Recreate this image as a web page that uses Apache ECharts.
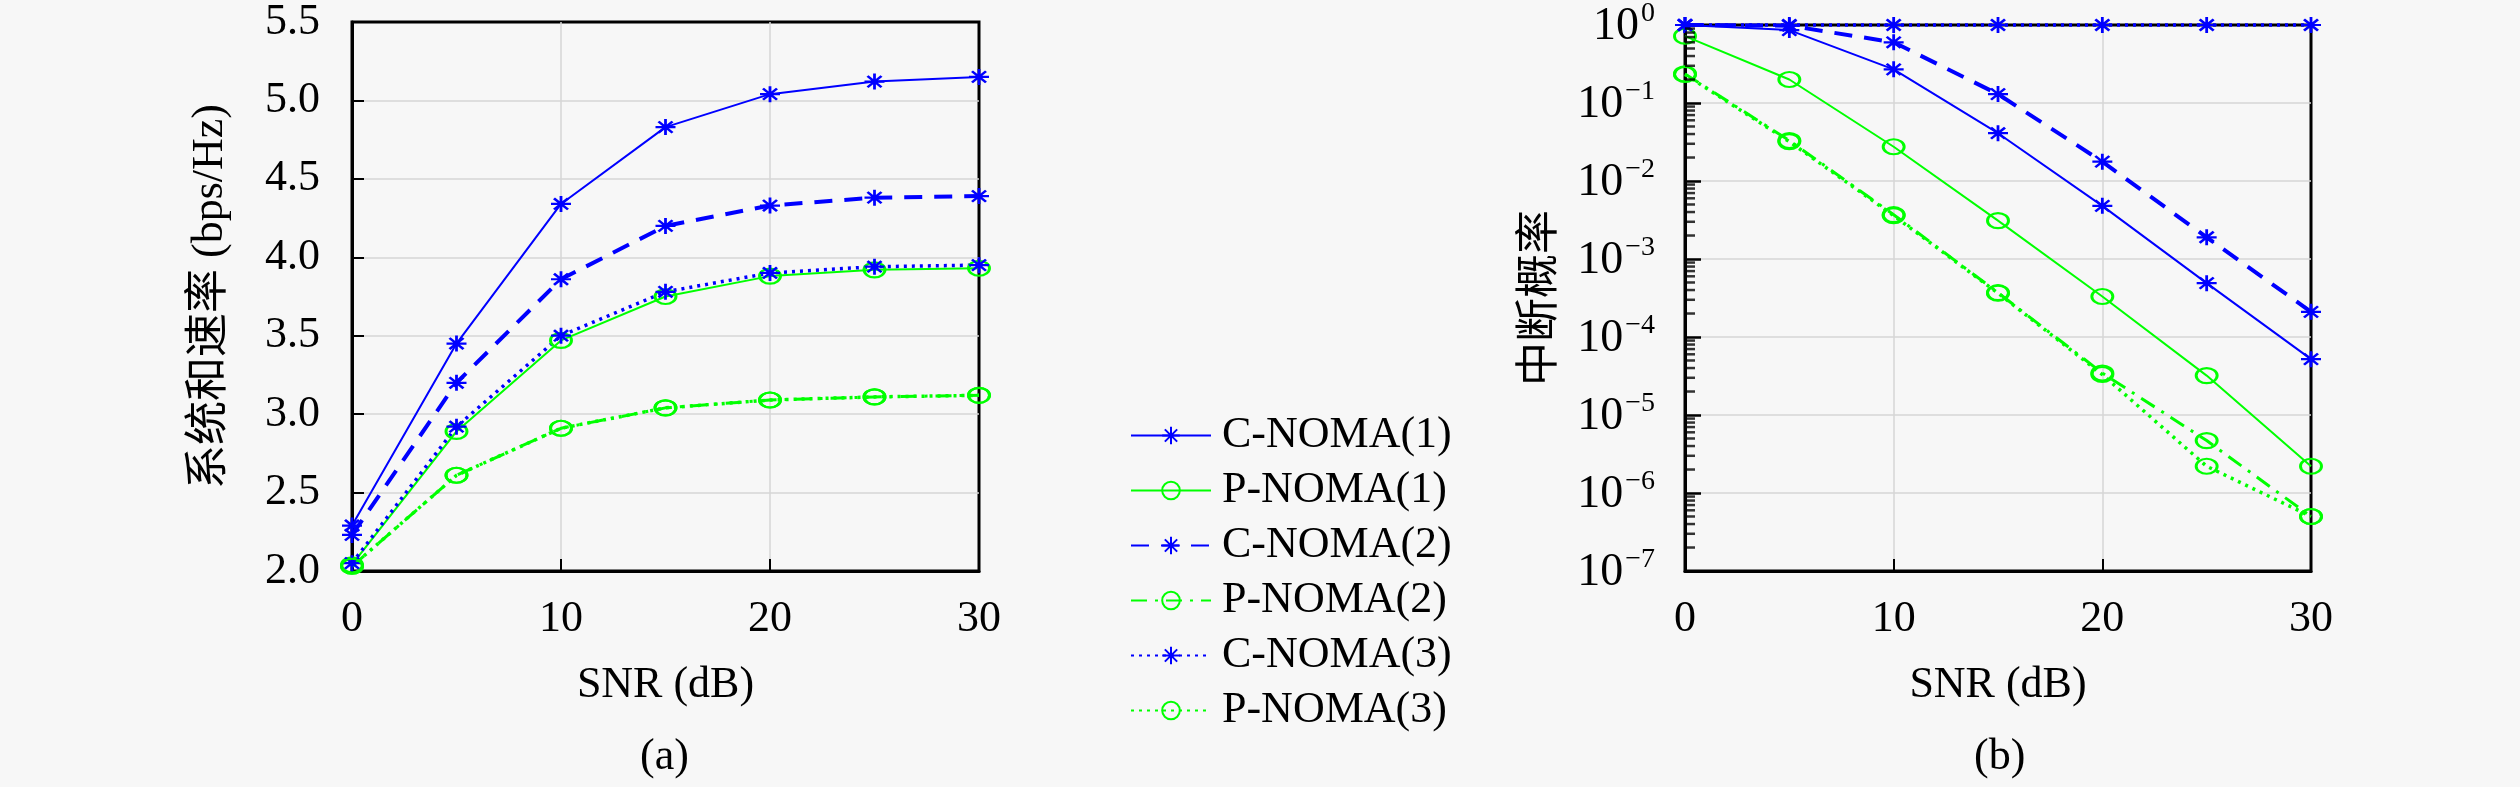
<!DOCTYPE html>
<html>
<head>
<meta charset="utf-8">
<script src="https://cdn.jsdelivr.net/npm/echarts@6/dist/echarts.min.js"></script>
<style>
  html, body { margin: 0; padding: 0; background: #f7f7f7; }
  #main { width: 2520px; height: 787px; }
</style>
</head>
<body>
<div id="main"></div>
<script>
// SNR points (dB)
const snr = [0, 5, 10, 15, 20, 25, 30];

// (a) sum rate, bps/Hz
const rateC1 = [2.29, 3.45, 4.34, 4.83, 5.04, 5.12, 5.15];
const rateP1 = [2.04, 2.89, 3.47, 3.75, 3.88, 3.92, 3.93];
const rateC2 = [2.23, 3.20, 3.86, 4.20, 4.33, 4.38, 4.39];
const rateP2 = [2.03, 2.61, 2.91, 3.04, 3.09, 3.11, 3.12];
const rateC3 = [2.05, 2.92, 3.50, 3.78, 3.90, 3.94, 3.95];
const rateP3 = [2.03, 2.61, 2.91, 3.04, 3.09, 3.11, 3.12];

// (b) outage probability
const outC1 = [1, 0.86, 0.27, 0.041, 0.0048, 4.9e-4, 5.2e-5];
const outP1 = [0.72, 0.20, 0.0275, 0.0031, 3.3e-4, 3.2e-5, 2.2e-6];
const outC2 = [1, 0.98, 0.60, 0.13, 0.0177, 0.0019, 2.1e-4];
const outP2 = [0.236, 0.033, 0.0037, 3.7e-4, 3.45e-5, 4.7e-6, 5e-7];
const outC3 = [1, 1, 1, 1, 1, 1, 1];
const outP3 = [0.232, 0.032, 0.0036, 3.65e-4, 3.3e-5, 2.2e-6, 5e-7];

const names = ['C-NOMA(1)', 'P-NOMA(1)', 'C-NOMA(2)', 'P-NOMA(2)', 'C-NOMA(3)', 'P-NOMA(3)'];

// minor ticks on the log axis: 2..9 in every decade
const mantissas = [2, 3, 4, 5, 6, 7, 8, 9];
const decades = [-7, -6, -5, -4, -3, -2, -1];

const BLUE = '#0000ff';
const GREEN = '#00ff00';
const FONT = "'Liberation Serif', 'Noto Sans CJK SC', serif";
const STAR = 'path://M10,0L10,20M0,10L20,10M3,3L17,17M3,17L17,3';

const pair = (ys) => snr.map((x, i) => [x, ys[i]]);

const styles = [
  { color: BLUE, type: 'solid', width: 2, symbol: STAR },
  { color: GREEN, type: 'solid', width: 2, symbol: 'circle' },
  { color: BLUE, type: [18, 12], width: 4, symbol: STAR },
  { color: GREEN, type: [16, 8, 3, 8], width: 3, symbol: 'circle' },
  { color: BLUE, type: [3, 5], width: 3.5, symbol: STAR },
  { color: GREEN, type: [3, 5], width: 3.5, symbol: 'circle' }
];

function makeSeries(name, st, ys, idx) {
  const star = st.symbol === STAR;
  return {
    name: name,
    type: 'line',
    xAxisIndex: idx,
    yAxisIndex: idx,
    data: pair(ys),
    symbol: st.symbol,
    symbolSize: star ? [20, 16] : [21, 15],
    showAllSymbol: true,
    clip: false,
    lineStyle: { color: st.color, width: st.width, type: st.type },
    itemStyle: { color: star ? st.color : 'rgba(0,0,0,0)', borderColor: st.color, borderWidth: 2.5 },
    emphasis: { disabled: true },
    animation: false,
    z: 3
  };
}

const rateSets = [rateC1, rateP1, rateC2, rateP2, rateC3, rateP3];
const outSets = [outC1, outP1, outC2, outP2, outC3, outP3];

const series = [];
names.forEach((n, i) => series.push(makeSeries(n, styles[i], rateSets[i], 0)));
names.forEach((n, i) => series.push(makeSeries(n, styles[i], outSets[i], 1)));

const minorVals = [];
decades.forEach(d => mantissas.forEach(m => minorVals.push([0, m * Math.pow(10, d)])));

// short inward ticks drawn through the log axis
series.push({
  name: 'minor',
  type: 'scatter',
  xAxisIndex: 1,
  yAxisIndex: 1,
  silent: true,
  animation: false,
  clip: false,
  z: 5,
  data: minorVals,
  symbol: 'rect',
  symbolSize: [10, 2.5],
  symbolOffset: [5, 0],
  itemStyle: { color: '#000' }
});

const gridLine = { show: true, showMinLine: false, showMaxLine: false, lineStyle: { color: '#d6d6d6', width: 1.5 } };
const axisLine = { show: true, lineStyle: { color: '#000', width: 3 } };
const tickStyle = { show: true, inside: true, length: 12, lineStyle: { color: '#000', width: 2 } };
const labelStyle = { color: '#000', fontFamily: FONT, fontSize: 44 };
const nameStyle = { color: '#000', fontFamily: FONT, fontSize: 44 };

function xAxis(idx) {
  return {
    type: 'value',
    gridIndex: idx,
    min: 0, max: 30, interval: 10,
    name: 'SNR (dB)',
    nameLocation: 'middle',
    nameGap: 92,
    nameTextStyle: nameStyle,
    axisLine: axisLine,
    axisTick: tickStyle,
    axisLabel: Object.assign({ margin: 26 }, labelStyle),
    splitLine: gridLine
  };
}

const supLabel = (v) => {
  const e = Math.round(Math.log10(v));
  return '{b|10}{s|' + (e === 0 ? '0' : '\u2212' + (-e)) + '}';
};

const chart = echarts.init(document.getElementById('main'), null, { renderer: 'canvas' });

chart.setOption({
  backgroundColor: '#f7f7f7',
  animation: false,
  grid: [
    { left: 352, top: 21, width: 627, height: 550, show: true, borderColor: '#000', borderWidth: 3, backgroundColor: 'transparent' },
    { left: 1685, top: 21, width: 626, height: 550, show: true, borderColor: '#000', borderWidth: 3, backgroundColor: 'transparent' }
  ],
  legend: {
    data: names,
    orient: 'vertical',
    left: 1125,
    top: 408,
    itemWidth: 80,
    itemHeight: 22,
    itemGap: 10,
    textStyle: { color: '#000', fontFamily: FONT, fontSize: 44, lineHeight: 45, padding: [0, 0, 0, 6] },
    selectedMode: false
  },
  xAxis: [xAxis(0), xAxis(1)],
  yAxis: [
    {
      type: 'value',
      gridIndex: 0,
      min: 2, max: 5.5, interval: 0.5,
      name: '系统和速率 (bps/Hz)',
      nameLocation: 'middle',
      nameGap: 120,
      nameTextStyle: nameStyle,
      axisLine: axisLine,
      axisTick: tickStyle,
      axisLabel: Object.assign({ margin: 32, formatter: (v) => v.toFixed(1) }, labelStyle),
      splitLine: gridLine
    },
    {
      type: 'log',
      logBase: 10,
      gridIndex: 1,
      min: 1e-7, max: 1,
      name: '中断概率',
      nameLocation: 'middle',
      nameGap: 122,
      nameTextStyle: nameStyle,
      axisLine: axisLine,
      axisTick: { show: true, inside: true, length: 16, lineStyle: { color: '#000', width: 2.5 } },
      axisLabel: {
        margin: 30,
        formatter: supLabel,
        rich: {
          b: { fontFamily: FONT, fontSize: 46, color: '#000', lineHeight: 50, verticalAlign: 'bottom' },
          s: { fontFamily: FONT, fontSize: 28, color: '#000', lineHeight: 50, verticalAlign: 'top', padding: [0, 0, 0, 2] }
        }
      },
      splitLine: gridLine
    }
  ],
  graphic: [
    { type: 'text', left: 640, top: 735, style: { text: '(a)', font: '44px ' + FONT, fill: '#000' } },
    { type: 'text', left: 1974, top: 735, style: { text: '(b)', font: '44px ' + FONT, fill: '#000' } }
  ],
  series: series
});
</script>
</body>
</html>
